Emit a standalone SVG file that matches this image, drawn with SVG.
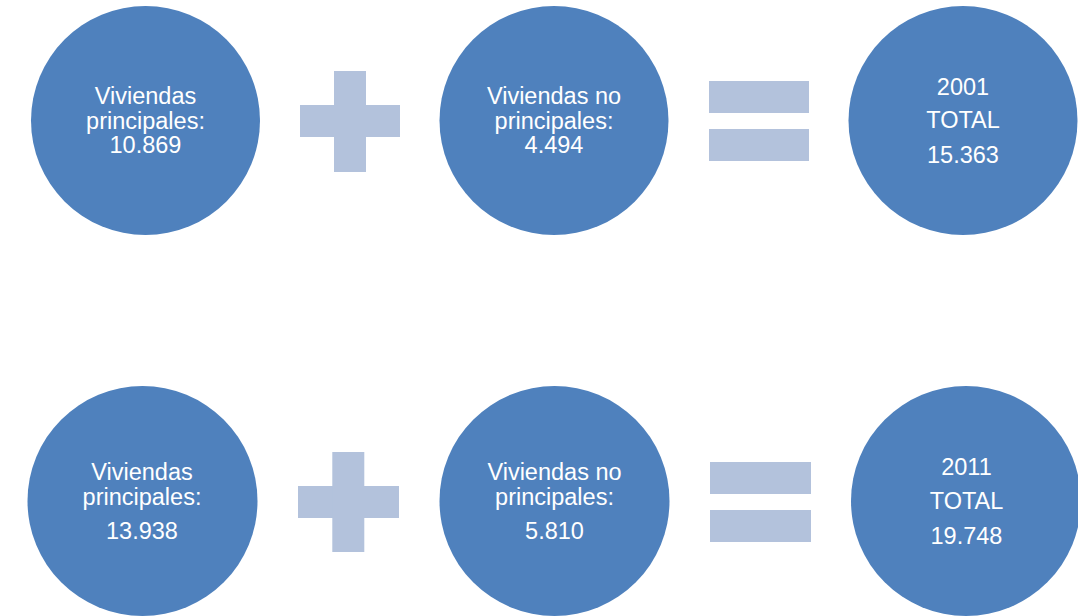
<svg xmlns="http://www.w3.org/2000/svg" width="1078" height="616" viewBox="0 0 1078 616">
<style>
.c{fill:#4F81BD}
.op{fill:#B3C2DC}
.t{font-family:"Liberation Sans",Arial,sans-serif;font-size:23.5px;fill:#FFFFFF;text-anchor:middle}
</style>
<rect width="1078" height="616" fill="#FFFFFF"/>
<g id="n1"><circle class="c" cx="145.5" cy="120.5" r="114.5"/>
<text class="t" x="145.5" y="104">Viviendas</text><text class="t" x="145.5" y="128.5">principales:</text><text class="t" x="145.5" y="153">10.869</text></g>
<g id="plus1"><rect class="op" x="300" y="105" width="100" height="32"/><rect class="op" x="334" y="71" width="32" height="101"/></g>
<g id="n2"><circle class="c" cx="554" cy="120.5" r="114.5"/>
<text class="t" x="554" y="104">Viviendas no</text><text class="t" x="554" y="128.5">principales:</text><text class="t" x="554" y="153">4.494</text></g>
<g id="eq1"><rect class="op" x="709" y="81" width="100" height="32"/><rect class="op" x="709" y="129" width="100" height="32"/></g>
<g id="n3"><circle class="c" cx="963" cy="120.5" r="114.5"/>
<text class="t" x="963" y="94.5">2001</text><text class="t" x="963" y="128">TOTAL</text><text class="t" x="963" y="162.5">15.363</text></g>
<g id="n4"><circle class="c" cx="142.5" cy="501" r="115"/>
<text class="t" x="142" y="480">Viviendas</text><text class="t" x="142" y="505">principales:</text><text class="t" x="142" y="539">13.938</text></g>
<g id="plus2"><rect class="op" x="298" y="486" width="101" height="32"/><rect class="op" x="332.3" y="452" width="32" height="100"/></g>
<g id="n5"><circle class="c" cx="554.5" cy="501" r="115"/>
<text class="t" x="554.5" y="480">Viviendas no</text><text class="t" x="554.5" y="505">principales:</text><text class="t" x="554.5" y="539">5.810</text></g>
<g id="eq2"><rect class="op" x="710" y="462" width="101" height="32"/><rect class="op" x="710" y="510" width="101" height="32"/></g>
<g id="n6"><circle class="c" cx="966" cy="501" r="115"/>
<text class="t" x="966.5" y="475">2011</text><text class="t" x="966.5" y="508.5">TOTAL</text><text class="t" x="966.5" y="544">19.748</text></g>
<g id="connectors"/>
</svg>
